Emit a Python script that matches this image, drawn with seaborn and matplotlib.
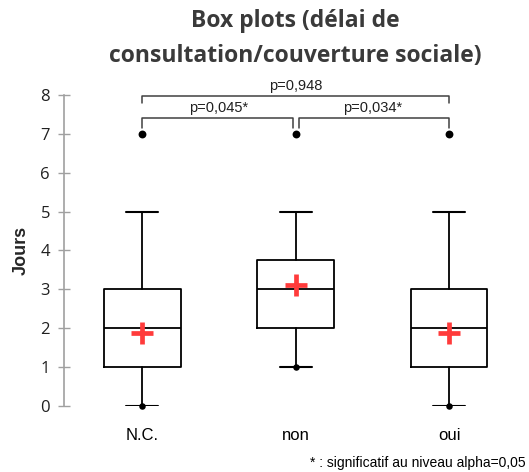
import matplotlib
matplotlib.use("Agg")
import matplotlib.pyplot as plt
import seaborn as sns
import pandas as pd

# values
groups = ["N.C.", "non", "oui"]
whisker_low = [0, 1, 0]
q1 = [1, 2, 1]
median = [2, 3, 2]
q3 = [3, 3.75, 3]
whisker_high = [5, 5, 5]
outliers = [7, 7, 7]
means = [1.87, 3.1, 1.87]

# pairwise comparisons: (left group, right group, label)
comparisons = [(0, 1, "p=0,045*"), (1, 2, "p=0,034*"), (0, 2, "p=0,948")]

sns.set_theme(style="white")
plt.rcParams["font.family"] = ["Liberation Sans", "DejaVu Sans"]

fig = plt.figure(figsize=(5.29, 4.72), dpi=100)
ax = fig.add_axes([0.121, 0.1398, 0.873, 0.659])

stats = []
for i, g in enumerate(groups):
    stats.append({"label": g, "whislo": whisker_low[i], "q1": q1[i], "med": median[i],
                  "q3": q3[i], "whishi": whisker_high[i], "fliers": []})

line = dict(color="black", linewidth=1.3)
ax.bxp(stats, positions=range(len(groups)), widths=0.5, showfliers=False,
       boxprops=line, medianprops=line, whiskerprops=line,
       capprops=dict(color="black", linewidth=1.5), capwidths=0.21)

df_out = pd.DataFrame({"x": range(len(groups)), "y": outliers})
df_min = pd.DataFrame({"x": range(len(groups)), "y": whisker_low})
df_mean = pd.DataFrame({"x": range(len(groups)), "y": means})
sns.scatterplot(data=df_out, x="x", y="y", color="black", s=32, linewidth=0, ax=ax, clip_on=False, zorder=5)
sns.scatterplot(data=df_min, x="x", y="y", color="black", s=22, linewidth=0, ax=ax, clip_on=False, zorder=5)
sns.scatterplot(data=df_mean, x="x", y="y", marker="+", color="#ff3b3b", s=240, linewidth=3.4, ax=ax, zorder=6)

# significance brackets
for a, b, lab in comparisons:
    if b - a == 1:
        top, drop = 7.42, 7.15
        xa = a + (0.02 if a == 1 else 0)
        xb = b - (0.02 if b == 1 else 0)
    else:
        top, drop = 7.98, 7.8
        xa, xb = a, b
    ax.plot([xa, xa, xb, xb], [drop, top, top, drop], color="#404040", lw=1.1, clip_on=False)
    ax.text((a + b) / 2, top + 0.06, lab, ha="center", va="bottom", fontsize=10.5,
            color="#202020", family=["Liberation Sans", "DejaVu Sans"])

ax.set_xlim(-0.51, 2.5)
ax.set_ylim(0, 8)
ax.set_yticks(range(0, 9))
ax.set_xticks(range(len(groups)))
ax.set_xticklabels(groups, fontsize=12)
ax.set_xlabel("")
ax.set_ylabel("Jours", fontsize=13, fontweight="bold", labelpad=8)
ax.tick_params(axis="y", direction="inout", length=8, width=1, color="#a0a0a0",
               labelsize=12, labelcolor="#202020", pad=6, left=True)
ax.tick_params(axis="x", length=0, pad=16, labelcolor="black")
for lab in ax.get_yticklabels():
    lab.set_family(["Open Sans", "DejaVu Sans"])

sns.despine(ax=ax, top=True, right=True, bottom=True)
ax.spines["left"].set_color("#a0a0a0")
ax.spines["left"].set_linewidth(1.2)

fig.text(0.558, 0.955, "Box plots (délai de", ha="center", va="center", fontsize=16.5,
         fontweight="bold", color="#3a3a3a", family=["Open Sans", "DejaVu Sans"])
fig.text(0.558, 0.882, "consultation/couverture sociale)", ha="center", va="center", fontsize=16.5,
         fontweight="bold", color="#3a3a3a", family=["Open Sans", "DejaVu Sans"])
fig.text(0.993, 0.02, "* : significatif au niveau alpha=0,05", ha="right", va="center", fontsize=10,
         color="black")

fig.savefig("out.png", dpi=100)
